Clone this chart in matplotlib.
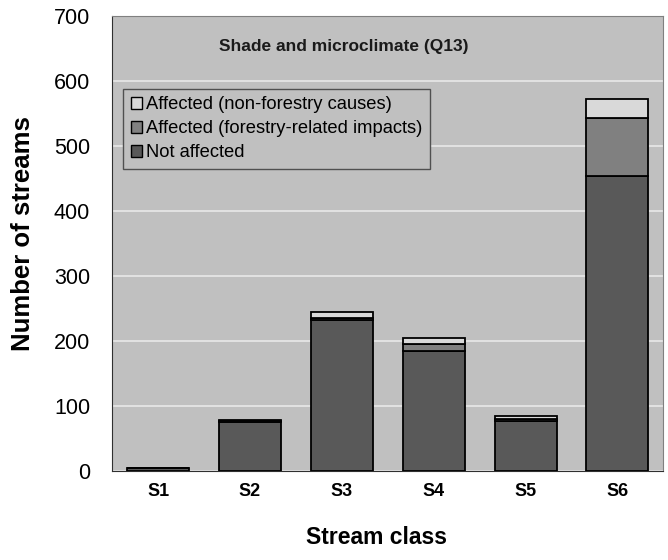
import matplotlib.pyplot as plt
import numpy as np

plt.rcParams['font.family'] = ['Liberation Sans', 'DejaVu Sans']

# data
classes = ["S1", "S2", "S3", "S4", "S5", "S6"]
not_affected = [5, 75, 232, 185, 77, 454]
forestry = [0, 2, 4, 10, 3, 89]
non_forestry = [0, 2, 9, 10, 4, 29]

fig = plt.figure(figsize=(6.68, 5.6), dpi=100)
ax = fig.add_axes([0.168, 0.159, 0.825, 0.812])
ax.set_facecolor("#C0C0C0")

x = np.arange(len(classes))
w = 0.675
bottom2 = np.array(not_affected)
bottom3 = bottom2 + np.array(forestry)

b1 = ax.bar(x, not_affected, w, color="#595959", edgecolor="black", linewidth=1.3, zorder=3)
b2 = ax.bar(x, forestry, w, bottom=bottom2, color="#808080", edgecolor="black", linewidth=1.3, zorder=3)
b3 = ax.bar(x, non_forestry, w, bottom=bottom3, color="#D9D9D9", edgecolor="black", linewidth=1.3, zorder=3)

ax.set_xlim(-0.5, len(classes) - 0.5)
ax.set_ylim(0, 700)
ax.set_yticks(range(0, 701, 100))
ax.yaxis.grid(True, color="#E8E8E8", linewidth=1.2, zorder=0)
ax.set_axisbelow(True)

ax.set_xticks(x)
ax.set_xticklabels(classes, fontsize=13, fontweight="bold")
ax.tick_params(axis="x", length=0, pad=9)
ax.tick_params(axis="y", length=0, pad=16, labelsize=15.5)

for side in ["top", "right"]:
    ax.spines[side].set_color("#808080")
for side in ["left", "bottom"]:
    ax.spines[side].set_color("#303030")

fig.text(23 / 668, 1 - 234 / 560, "Number of streams", rotation=90,
         ha="center", va="center", fontsize=18.5, fontweight="bold")
fig.text(377 / 668, 1 - 538 / 560, "Stream class",
         ha="center", va="center", fontsize=16.5, fontweight="bold")

# chart title sits over the whole chart area, not just the plot
fig.text(344 / 668, 1 - 47 / 560, "Shade and microclimate (Q13)",
         ha="center", va="center", fontsize=12.5, fontweight="bold", color="#1A1A1A")

leg = ax.legend([b3, b2, b1],
                ["Affected (non-forestry causes)", "Affected (forestry-related impacts)", "Not affected"],
                loc="upper left", bbox_to_anchor=(0.02, 0.84), fontsize=13.2,
                handlelength=0.65, handleheight=0.65, handletextpad=0.2,
                labelspacing=0.38, borderpad=0.4, borderaxespad=0,
                fancybox=False, framealpha=1)
leg.get_frame().set_facecolor("#C0C0C0")
leg.get_frame().set_edgecolor("#505050")
leg.get_frame().set_linewidth(1)
for h in leg.legend_handles:
    h.set_linewidth(1)

fig.savefig("out.png", dpi=100)
